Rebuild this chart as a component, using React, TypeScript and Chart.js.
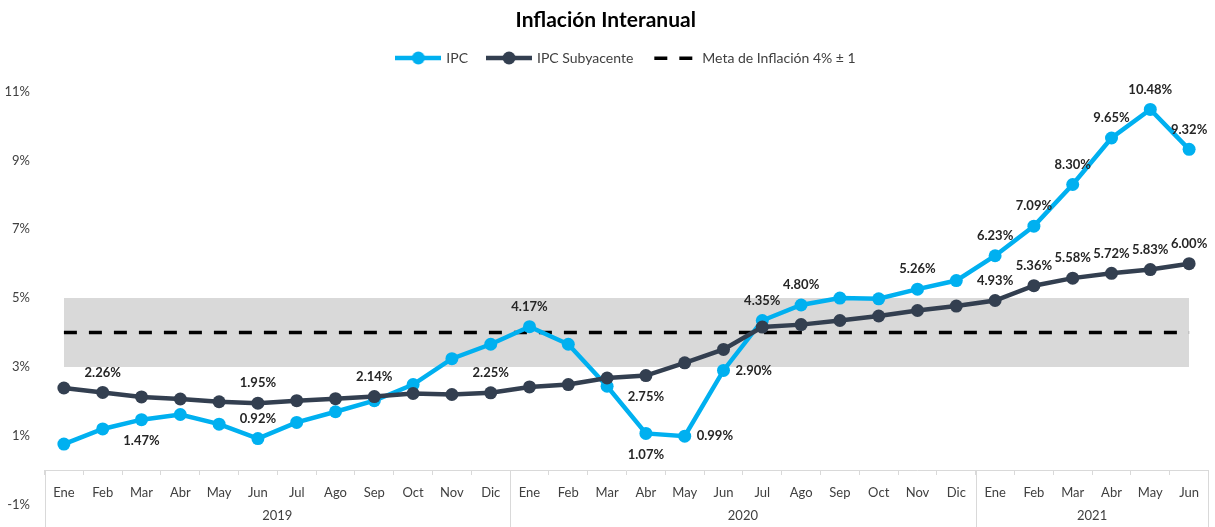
import React, { useEffect, useRef } from 'react';
import { Chart, registerables } from 'chart.js';

Chart.register(...registerables);

// ---------- data ----------
const months = [
  'Ene', 'Feb', 'Mar', 'Abr', 'May', 'Jun', 'Jul', 'Ago', 'Sep', 'Oct', 'Nov', 'Dic',
  'Ene', 'Feb', 'Mar', 'Abr', 'May', 'Jun', 'Jul', 'Ago', 'Sep', 'Oct', 'Nov', 'Dic',
  'Ene', 'Feb', 'Mar', 'Abr', 'May', 'Jun',
];
const years = ['2019', '2020', '2021'];
const monthsPerYear = [12, 12, 6];

const ipc = [
  0.76, 1.2, 1.47, 1.62, 1.34, 0.92, 1.39, 1.7, 2.02, 2.49, 3.24, 3.66,
  4.17, 3.66, 2.44, 1.07, 0.99, 2.9, 4.35, 4.8, 5.0, 4.98, 5.26, 5.51,
  6.23, 7.09, 8.3, 9.65, 10.48, 9.32,
];
const ipcSubyacente = [
  2.39, 2.26, 2.13, 2.07, 1.99, 1.95, 2.02, 2.08, 2.14, 2.23, 2.2, 2.25,
  2.42, 2.49, 2.68, 2.75, 3.12, 3.51, 4.16, 4.23, 4.35, 4.48, 4.64, 4.77,
  4.93, 5.36, 5.58, 5.72, 5.83, 6.0,
];
const metaInflacion = 4;
const metaTolerancia = 1;
const yTicks = [-1, 1, 3, 5, 7, 9, 11];

// which points carry a value label, and where
const ipcLabelPlacement: Record<number, string> = {
  2: 'below', 5: 'above', 12: 'above', 15: 'below', 16: 'right', 17: 'right',
  18: 'above', 19: 'above', 22: 'above', 24: 'above', 25: 'above', 26: 'above',
  27: 'above', 28: 'above', 29: 'above',
};
const coreLabelPlacement: Record<number, string> = {
  1: 'above', 5: 'above', 8: 'above', 11: 'above', 15: 'below', 24: 'above',
  25: 'above', 26: 'above', 27: 'above', 28: 'above', 29: 'above',
};

const FONT = 'Lato';
const BLUE = '#00b0f0';
const DARK = '#333f50';
const TEXT = '#404040';

function makeLineMarker(color: string) {
  const c = document.createElement('canvas');
  c.width = 46;
  c.height = 14;
  const g = c.getContext('2d')!;
  g.strokeStyle = color;
  g.lineWidth = 4.5;
  g.beginPath();
  g.moveTo(0, 7);
  g.lineTo(46, 7);
  g.stroke();
  g.fillStyle = color;
  g.beginPath();
  g.arc(23, 7, 6.5, 0, Math.PI * 2);
  g.fill();
  return c;
}

function makeDashMarker() {
  const c = document.createElement('canvas');
  c.width = 46;
  c.height = 14;
  const g = c.getContext('2d')!;
  g.fillStyle = '#000';
  g.fillRect(3, 5.5, 13, 3.5);
  g.fillRect(28, 5.5, 13, 3.5);
  return c;
}

export default function App() {
  const ref = useRef<HTMLCanvasElement>(null);

  useEffect(() => {
    const canvas = ref.current!;
    const metaLine = months.map(() => metaInflacion);
    const bandHigh = months.map(() => metaInflacion + metaTolerancia);

    const ipcMarker = makeLineMarker(BLUE);
    const coreMarker = makeLineMarker(DARK);
    const dashMarker = makeDashMarker();

    const pointLabels = {
      id: 'pointLabels',
      afterDatasetsDraw(chart: any) {
        const ctx = chart.ctx;
        ctx.save();
        ctx.font = `bold 13px ${FONT}`;
        ctx.fillStyle = '#262626';
        ctx.textBaseline = 'middle';
        const sets: [number, Record<number, string>][] = [
          [0, ipcLabelPlacement],
          [1, coreLabelPlacement],
        ];
        for (const [dsIndex, placement] of sets) {
          const meta = chart.getDatasetMeta(dsIndex);
          const data = chart.data.datasets[dsIndex].data as number[];
          Object.keys(placement).forEach((k) => {
            const i = Number(k);
            const pt = meta.data[i];
            const text = data[i].toFixed(2) + '%';
            let x = pt.x;
            let y = pt.y;
            const pos = placement[i];
            if (pos === 'above') {
              ctx.textAlign = 'center';
              y -= 20;
            } else if (pos === 'below') {
              ctx.textAlign = 'center';
              y += 21;
            } else {
              ctx.textAlign = 'left';
              x += 12;
            }
            ctx.fillText(text, x, y);
          });
        }
        ctx.restore();
      },
    };

    const axisBox = {
      id: 'axisBox',
      afterDraw(chart: any) {
        const xs = chart.scales.x;
        const ys = chart.scales.y;
        const ctx = chart.ctx;
        const half = (xs.getPixelForValue(1) - xs.getPixelForValue(0)) / 2;
        const top = ys.getPixelForValue(0);
        const bottom = chart.height;
        const bounds = [0];
        let acc = 0;
        monthsPerYear.forEach((c) => {
          acc += c;
          bounds.push(acc);
        });
        ctx.save();
        ctx.strokeStyle = '#d9d9d9';
        ctx.lineWidth = 1;
        bounds.forEach((b) => {
          const x = Math.round(xs.getPixelForValue(b) - half) + 0.5;
          ctx.beginPath();
          ctx.moveTo(x, top);
          ctx.lineTo(x, bottom);
          ctx.stroke();
        });
        ctx.font = `13px ${FONT}`;
        ctx.fillStyle = TEXT;
        ctx.textAlign = 'center';
        ctx.textBaseline = 'middle';
        years.forEach((yr, k) => {
          const x0 = xs.getPixelForValue(bounds[k]) - half;
          const x1 = xs.getPixelForValue(bounds[k + 1]) - half;
          ctx.fillText(yr, (x0 + x1) / 2, top + 46);
        });
        ctx.restore();
      },
    };

    const chart = new Chart(canvas, {
      type: 'line',
      data: {
        labels: months,
        datasets: [
          {
            label: 'IPC',
            data: ipc,
            borderColor: BLUE,
            backgroundColor: BLUE,
            pointBackgroundColor: BLUE,
            pointBorderWidth: 0,
            borderWidth: 4.5,
            pointRadius: 6.5,
            tension: 0,
            order: 1,
          },
          {
            label: 'IPC Subyacente',
            data: ipcSubyacente,
            borderColor: DARK,
            backgroundColor: DARK,
            pointBackgroundColor: DARK,
            pointBorderWidth: 0,
            borderWidth: 4.5,
            pointRadius: 6.5,
            tension: 0,
            order: 0,
          },
          {
            label: 'Meta de Inflación 4% ± 1',
            data: metaLine,
            borderColor: '#000',
            borderWidth: 3.5,
            borderDash: [13, 12],
            pointRadius: 0,
            fill: false,
            order: 2,
          },
          {
            label: 'Rango meta',
            data: bandHigh,
            borderWidth: 0,
            borderColor: 'rgba(0,0,0,0)',
            backgroundColor: '#d9d9d9',
            pointRadius: 0,
            fill: { value: metaInflacion - metaTolerancia },
            order: 3,
          },
        ],
      },
      options: {
        responsive: false,
        animation: false,
        layout: { padding: { left: 0, right: 3.5, top: 0, bottom: 20.5 } },
        font: { family: FONT },
        plugins: {
          tooltip: { enabled: false },
          title: {
            display: true,
            text: 'Inflación Interanual',
            color: '#000',
            font: { family: FONT, size: 21, weight: 'bold', lineHeight: 1 },
            padding: { top: 9.5, bottom: 0.5 },
          },
          subtitle: {
            display: true,
            text: '',
            weight: 500,
            font: { family: FONT, size: 14, lineHeight: 1.18 },
            padding: 0,
          },
          legend: {
            position: 'top',
            align: 'center',
            fullSize: false,
            labels: {
              usePointStyle: true,
              pointStyleWidth: 42,
              boxHeight: 14,
              padding: 20,
              color: TEXT,
              font: { family: FONT, size: 14 },
              generateLabels: () => [
                { text: 'IPC', pointStyle: ipcMarker, fillStyle: BLUE, strokeStyle: BLUE, lineWidth: 0, hidden: false, datasetIndex: 0, fontColor: TEXT },
                { text: 'IPC Subyacente', pointStyle: coreMarker, fillStyle: DARK, strokeStyle: DARK, lineWidth: 0, hidden: false, datasetIndex: 1, fontColor: TEXT },
                { text: 'Meta de Inflación 4% ± 1', pointStyle: dashMarker, fillStyle: '#000', strokeStyle: '#000', lineWidth: 0, hidden: false, datasetIndex: 2, fontColor: TEXT },
              ] as any,
            },
          },
        },
        scales: {
          x: {
            type: 'category',
            position: { y: 0 } as any,
            offset: true,
            grid: {
              offset: true,
              drawOnChartArea: false,
              drawTicks: true,
              tickLength: 4,
              color: '#d9d9d9',
            },
            border: { display: true, color: '#d9d9d9', width: 1 },
            ticks: {
              autoSkip: false,
              maxRotation: 0,
              padding: 11,
              color: TEXT,
              font: { family: FONT, size: 13 },
            },
          },
          y: {
            type: 'linear',
            min: -1,
            max: 11,
            grid: { display: false, drawTicks: false },
            border: { display: false },
            afterBuildTicks: (scale: any) => {
              scale.ticks = yTicks.map((v) => ({ value: v }));
            },
            afterFit: (scale: any) => {
              scale.width = 44.5;
            },
            ticks: {
              padding: 14.5,
              color: TEXT,
              font: { family: FONT, size: 13 },
              callback: (v: any) => `${v}%`,
            },
          },
        },
      } as any,
      plugins: [pointLabels, axisBox],
    });

    return () => chart.destroy();
  }, []);

  return (
    <div style={{ position: 'absolute', left: 0, top: 0, width: 1215, height: 527 }}>
      <canvas ref={ref} width={1215} height={527} />
    </div>
  );
}
